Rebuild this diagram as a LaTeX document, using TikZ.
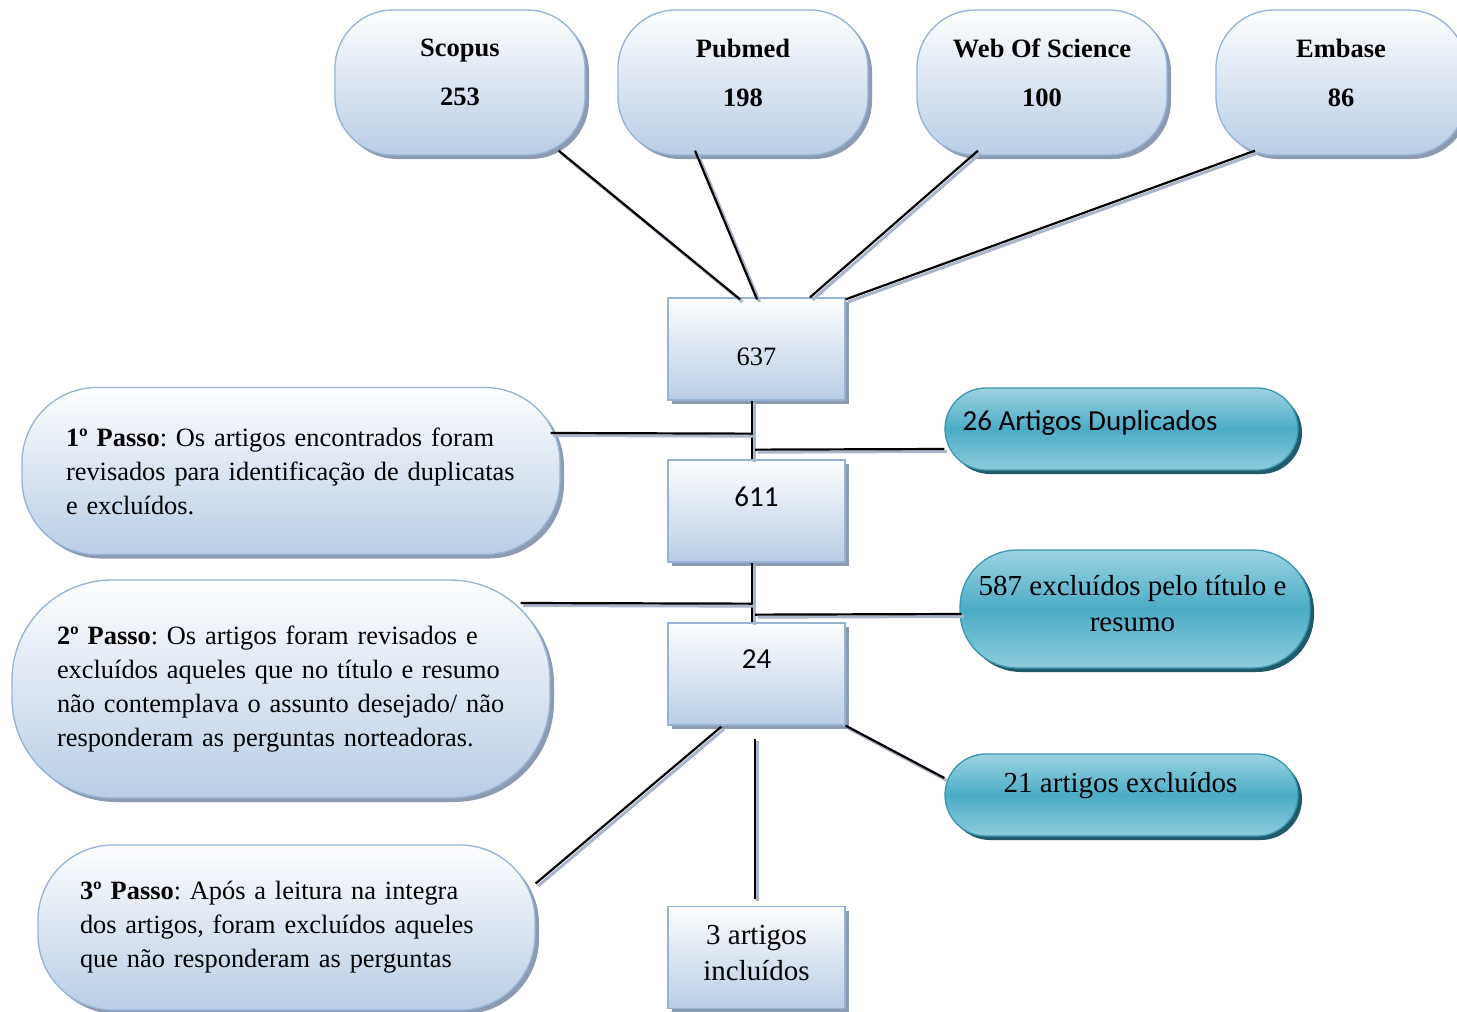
\documentclass[tikz,border=0pt]{standalone}
\usepackage{fontspec}
\setmainfont{Liberation Serif}
\newfontfamily\calfont{Carlito}
\usetikzlibrary{shadows,calc}
\frenchspacing

\definecolor{bxtop}{HTML}{FDFEFF}
\definecolor{bxbot}{HTML}{B9CDE5}
\definecolor{bxline}{HTML}{95B3D7}
\definecolor{bxshadow}{HTML}{8D9BB1}
\definecolor{tltop}{HTML}{9DD3E2}
\definecolor{tlmid}{HTML}{4BACC6}
\definecolor{tlbot}{HTML}{8ECBDC}
\definecolor{tlline}{HTML}{3C97B0}
\definecolor{tlshadow}{HTML}{215A69}
\definecolor{lnshadow}{HTML}{A9B6CA}

\tikzset{
 bluebox/.style={draw=bxline, line width=1.3pt, top color=bxtop, bottom color=bxbot,
   drop shadow={shadow xshift=4pt, shadow yshift=-4pt, fill=bxshadow, opacity=1}, inner sep=0pt},
 topbox/.style={bluebox, rounded corners=58pt, minimum width=250pt, minimum height=145pt},
 numbox/.style={bluebox, minimum width=177pt, minimum height=102pt},
 stepbox/.style={bluebox, align=left, font=\fontsize{26.4}{34}\selectfont},
 tealbox/.style={draw=tlline, line width=1.3pt, top color=tltop, bottom color=tlbot, middle color=tlmid,
   drop shadow={shadow xshift=4pt, shadow yshift=-4pt, fill=tlshadow, opacity=1}, inner sep=0pt},
 toptxt/.style={inner sep=0pt, align=center, font=\bfseries\fontsize{26.5}{49}\selectfont},
 sertxt/.style={inner sep=0pt, font=\fontsize{29}{36}\selectfont},
 caltxt/.style={inner sep=0pt, font=\calfont\fontsize{29}{36}\selectfont},
 conn/.style={draw=black, line width=2.2pt,
   preaction={draw=lnshadow, line width=3pt, transform canvas={shift={(2.5pt,-2.5pt)}}}},
}

\begin{document}
\begin{tikzpicture}[x=1pt,y=-1pt]
\useasboundingbox (0,0) rectangle (1457,1012);

% top source boxes
\node[topbox] (scopus) at (460,82.5) {};
\node[topbox] (pubmed) at (743,82.5) {};
\node[topbox] (wos) at (1042,82.5) {};
\node[topbox] (embase) at (1341,82.5) {};
\node[toptxt] (scopusT) at ($(scopus.center)+(0,-10)$) {Scopus\\253};
\node[toptxt] (pubmedT) at ($(pubmed.center)+(0,-10)$) {Pubmed\\198};
\node[toptxt] (wosT) at ($(wos.center)+(0,-10)$) {Web Of Science\\100};
\node[toptxt] (embaseT) at ($(embase.center)+(0,-10)$) {Embase\\86};

% count boxes
\node[numbox] (b637) at (756.5,349) {};
\node[numbox] (b611) at (756.5,511) {};
\node[numbox] (b24) at (756.5,674) {};
\node[numbox] (b3) at (756.5,957.5) {};
\node[sertxt, anchor=base] (b637T) at ($(b637.center)+(0,16)$) {\fontsize{26.5}{32}\selectfont 637};
\node[caltxt, anchor=base] (b611T) at ($(b611.center)+(0,-5)$) {611};
\node[caltxt, anchor=base] (b24T) at ($(b24.center)+(0,-6)$) {24};
\node[sertxt, align=center] (b3T) at ($(b3.center)+(0,-4.5)$) {3 artigos\\incluídos};

% step boxes
\node[stepbox, minimum width=538pt, minimum height=167pt, rounded corners=75pt, text width=450pt]
  (step1) at (291,471) {\mbox{\textbf{1º Passo}: Os artigos encontrados foram}\\\mbox{revisados para identificação de duplicatas}\\\mbox{e excluídos.}};
\node[stepbox, minimum width=538pt, minimum height=218pt, rounded corners=100pt, text width=448pt]
  (step2) at (281,689) {\mbox{\textbf{2º Passo}: Os artigos foram revisados e}\\\mbox{excluídos aqueles que no título e resumo}\\\mbox{não contemplava o assunto desejado/ não}\\\mbox{responderam as perguntas norteadoras.}};
\node[stepbox, minimum width=497pt, minimum height=165pt, rounded corners=75pt, text width=413pt]
  (step3) at (286.5,927.5) {\mbox{\textbf{3º Passo}: Após a leitura na integra}\\\mbox{dos artigos, foram excluídos aqueles}\\\mbox{que não responderam as perguntas}};

% teal boxes
\node[tealbox, minimum width=353pt, minimum height=82pt, rounded corners=41pt] (dup) at (1121.5,429) {};
\node[tealbox, minimum width=350pt, minimum height=118pt, rounded corners=57pt] (exc587) at (1135,609) {};
\node[tealbox, minimum width=353pt, minimum height=82pt, rounded corners=41pt] (exc21) at (1121.5,795) {};
\node[caltxt, anchor=base west] (dupT) at ($(dup.west)+(18,1)$) {26 Artigos Duplicados};
\node[sertxt, align=center] (exc587T) at ($(exc587.center)+(-2.5,-5.5)$) {587 excluídos pelo título e\\resumo};
\node[sertxt, anchor=base] (exc21T) at ($(exc21.center)+(-1,-3)$) {21 artigos excluídos};

% connectors
\draw[conn] ($(scopus.south east)+(-27,-5)$) -- ($(b637.north)+(-16.5,2)$);
\draw[conn] ($(pubmed.south)+(-48,-5)$) -- ($(b637.north)+(0.5,2)$);
\draw[conn] ($(wos.south)+(-64,-5)$) -- ($(b637.north)+(53.5,0)$);
\draw[conn] ($(embase.south)+(-86,-5)$) -- ($(b637.north east)+(0,2)$);

\draw[conn] ($(b637.south)+(-4.5,0)$) -- ($(b611.north)+(-4.5,0)$);
\draw[conn] ($(step1.east)+(-10,-38)$) -- ($(b637.south)+(-4.5,33)$);
\draw[conn] ($(b637.south)+(-1.5,49)$) -- ($(dup.west)+(0,20)$);

\draw[conn] ($(b611.south)+(-4.5,0)$) -- ($(b24.north)+(-4.5,0)$);
\draw[conn] ($(step2.east)+(-30,-86)$) -- ($(b611.south)+(-4.5,41)$);
\draw[conn] ($(b611.south)+(-1.5,52)$) -- ($(exc587.west)+(2,5)$);

\draw[conn] ($(b24.south west)+(54,1)$) -- ($(step3.east)+(0,-44)$);
\draw[conn] ($(b24.south)+(-1.5,13)$) -- ($(b3.north)+(-1.5,-7)$);
\draw[conn] (b24.south east) -- ($(exc21.west)+(0,-17)$);
\end{tikzpicture}
\end{document}
